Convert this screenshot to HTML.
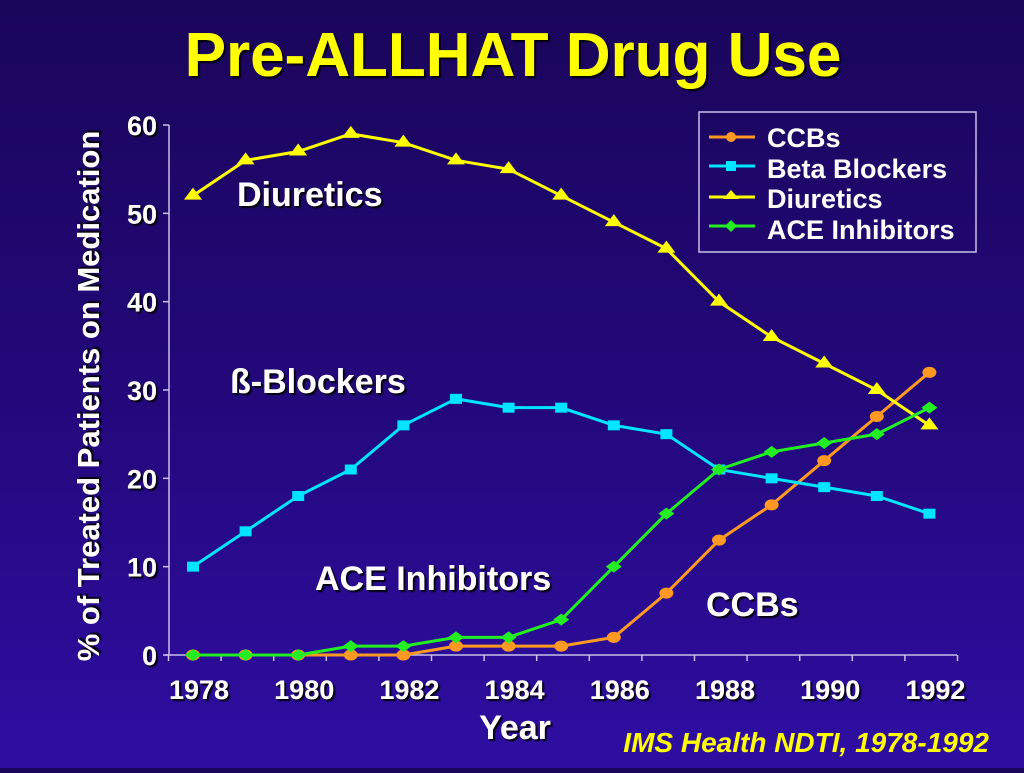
<!DOCTYPE html>
<html><head><meta charset="utf-8"><style>
html,body{margin:0;padding:0}
body{width:1024px;height:768px;overflow:hidden;background:linear-gradient(#1a065a 0%,#22087a 50%,#2e0ea2 100%);font-family:"Liberation Sans",sans-serif}
svg text{font-family:"Liberation Sans",sans-serif}
</style></head><body>
<svg id="chart" width="1024" height="768" xmlns="http://www.w3.org/2000/svg">
<defs><filter id="sh" x="-10%" y="-10%" width="130%" height="130%"><feDropShadow dx="2" dy="2" stdDeviation="0.6" flood-color="#000" flood-opacity="0.9"/></filter></defs>
<text x="513" y="76" text-anchor="middle" font-size="62" font-weight="bold" fill="#ffff00" filter="url(#sh)">Pre-ALLHAT Drug Use</text>
<g id="axes"></g>
<g id="series"></g>
<text transform="translate(99,396) rotate(-90)" text-anchor="middle" font-size="31" font-weight="bold" fill="#fff" filter="url(#sh)">% of Treated Patients on Medication</text>
<text x="515" y="739" text-anchor="middle" font-size="34" font-weight="bold" fill="#fff" filter="url(#sh)">Year</text>
<text x="989" y="752" text-anchor="end" font-size="28" font-weight="bold" font-style="italic" fill="#ffff00">IMS Health NDTI, 1978-1992</text>
<text x="237" y="206" font-size="34" font-weight="bold" fill="#fff" filter="url(#sh)">Diuretics</text>
<text x="230" y="393" font-size="34" font-weight="bold" fill="#fff" filter="url(#sh)">ß-Blockers</text>
<text x="315" y="590" font-size="34" font-weight="bold" fill="#fff" filter="url(#sh)">ACE Inhibitors</text>
<text x="706" y="616" font-size="34" font-weight="bold" fill="#fff" filter="url(#sh)">CCBs</text>
<g>
<rect x="699" y="112" width="277" height="140" fill="none" stroke="#c8c0e8" stroke-width="1.5"/>
<line x1="709" y1="137" x2="755" y2="137" stroke="#ff9922" stroke-width="3"/><circle cx="731" cy="137" r="5" fill="#ff9922"/>
<text x="767" y="147" font-size="27" font-weight="bold" fill="#fff">CCBs</text>
<line x1="709" y1="166" x2="755" y2="166" stroke="#00e5ff" stroke-width="3"/><rect x="726" y="161" width="10" height="10" fill="#00e5ff"/>
<text x="767" y="178" font-size="27" font-weight="bold" fill="#fff">Beta Blockers</text>
<line x1="709" y1="197" x2="755" y2="197" stroke="#ffff00" stroke-width="3"/><polygon points="731,190 739,199 723,199" fill="#ffff00"/>
<text x="767" y="208" font-size="27" font-weight="bold" fill="#fff">Diuretics</text>
<line x1="709" y1="226" x2="755" y2="226" stroke="#22ee22" stroke-width="3"/><polygon points="731,220 737,226 731,232 725,226" fill="#22ee22"/>
<text x="767" y="239" font-size="27" font-weight="bold" fill="#fff">ACE Inhibitors</text>
</g>
</svg>
<script>
const years=[1978,1979,1980,1981,1982,1983,1984,1985,1986,1987,1988,1989,1990,1991,1992];
const xTickLabels=["1978","1980","1982","1984","1986","1988","1990","1992"];
const yTicks=[0,10,20,30,40,50,60];
const diuretics=[52,56,57,59,58,56,55,52,49,46,40,36,33,30,26];
const betaBlockers=[10,14,18,21,26,29,28,28,26,25,21,20,19,18,16];
const ccbs=[0,0,0,0,0,1,1,1,2,7,13,17,22,27,32];
const aceInhibitors=[0,0,0,1,1,2,2,4,10,16,21,23,24,25,28];
const NS="http://www.w3.org/2000/svg";
const step=52.6;
function x(i){return 193+i*step;}
function y(v){return 655-v*530/60;}
function mk(tag,attrs,parent){const e=document.createElementNS(NS,tag);for(const k in attrs)e.setAttribute(k,attrs[k]);parent.appendChild(e);return e;}
const axes=document.getElementById('axes');
let a=mk('line',{x1:169,y1:y(60),x2:169,y2:y(0),stroke:'#c8c0e8','stroke-width':1.5},axes);


a=mk('line',{x1:165,y1:y(0),x2:957,y2:y(0),stroke:'#c8c0e8','stroke-width':1.5},axes);


yTicks.forEach(v=>{
  mk('line',{x1:163,y1:y(v),x2:169,y2:y(v),stroke:'#c8c0e8','stroke-width':1.5},axes);
  const t=mk('text',{x:157,y:y(v)+10,'text-anchor':'end','font-size':27,'font-weight':'bold',fill:'#fff',filter:'url(#sh)'},axes);
  t.textContent=v;
  
  
});
for(let i=0;i<=years.length;i++){
  const tx=x(i)-24.5;
  mk('line',{x1:tx,y1:y(0),x2:tx,y2:y(0)+6,stroke:'#c8c0e8','stroke-width':1.5},axes);
}
xTickLabels.forEach((s,k)=>{
  const i=years.indexOf(+s);
  const t=mk('text',{x:x(i)+6,y:699,'text-anchor':'middle','font-size':27,'font-weight':'bold',fill:'#fff',filter:'url(#sh)'},axes);
  t.textContent=s;
  
  
});
const sg=document.getElementById('series');
function draw(data,color,shape,name){
  const g=mk('g',{},sg);
  
  
  const pl=mk('polyline',{points:data.map((v,i)=>x(i)+','+y(v)).join(' '),fill:'none',stroke:color,'stroke-width':3},g);
  
  
  data.forEach((v,i)=>{
    const cx=x(i),cy=y(v);let m;
    if(shape==='circle')m=mk('ellipse',{cx:cx,cy:cy,rx:7,ry:5.5,fill:color},g);
    else if(shape==='square')m=mk('rect',{x:cx-6,y:cy-5,width:12,height:10,fill:color},g);
    else if(shape==='tri')m=mk('polygon',{points:`${cx},${cy-8} ${cx+9},${cy+4} ${cx-9},${cy+4}`,fill:color},g);
    else m=mk('polygon',{points:`${cx},${cy-6} ${cx+8},${cy} ${cx},${cy+6} ${cx-8},${cy}`,fill:color},g);
    
    
  });
}
draw(ccbs,'#ff9922','circle','ccbs');
draw(betaBlockers,'#00e5ff','square','beta-blockers');
draw(diuretics,'#ffff00','tri','diuretics');
draw(aceInhibitors,'#22ee22','diamond','ace-inhibitors');
</script>
</body></html>
